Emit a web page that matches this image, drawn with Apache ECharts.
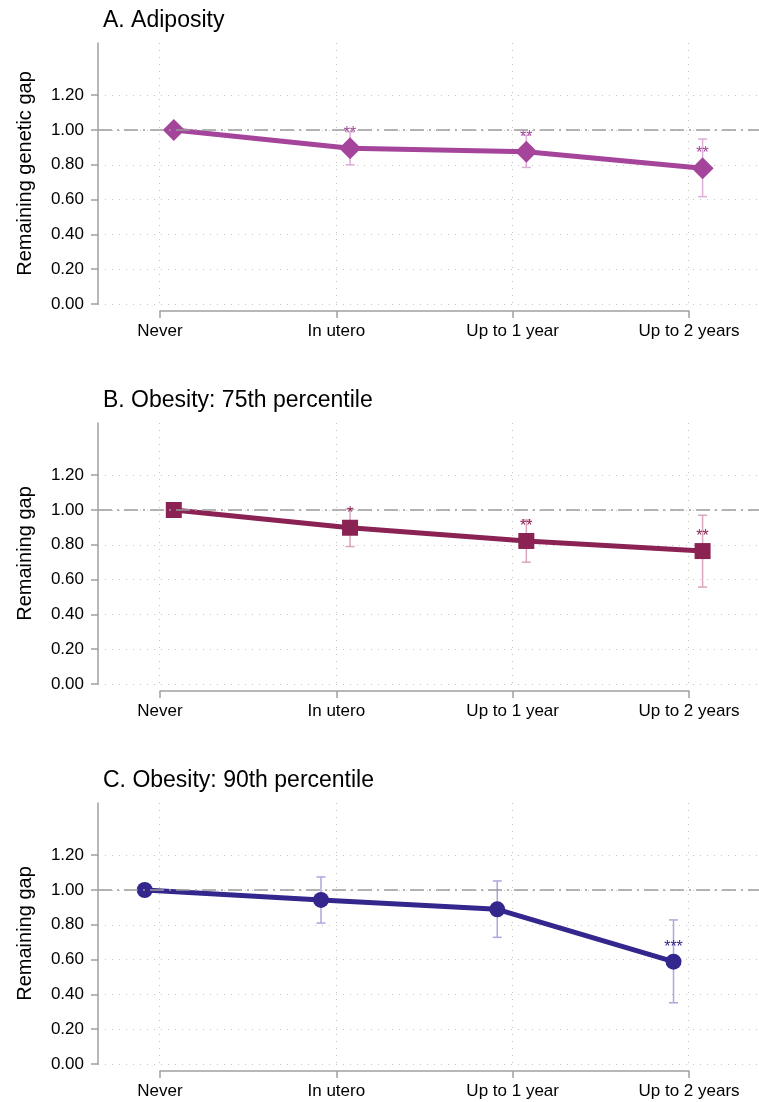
<!DOCTYPE html>
<html>
<head>
<meta charset="utf-8">
<script src="https://cdn.jsdelivr.net/npm/echarts@6/dist/echarts.min.js"></script>
<style>html,body{margin:0;padding:0;background:#fff;}#c{width:759px;height:1102px;}</style>
</head>
<body>
<div id="c"></div>
<script>
const categories = ['Never', 'In utero', 'Up to 1 year', 'Up to 2 years'];
const yTicks = [0, 0.2, 0.4, 0.6, 0.8, 1.0, 1.2];

const adiposity = [1.00, 0.895, 0.875, 0.78];
const adiposityLow = [null, 0.80, 0.785, 0.617];
const adiposityHigh = [null, 0.99, 0.97, 0.948];
const adiposityStars = ['', '**', '**', '**'];

const obesity75 = [1.00, 0.898, 0.822, 0.764];
const obesity75Low = [null, 0.79, 0.70, 0.557];
const obesity75High = [null, 1.005, 0.943, 0.97];
const obesity75Stars = ['', '*', '**', '**'];

const obesity90 = [1.00, 0.943, 0.889, 0.588];
const obesity90Low = [null, 0.81, 0.728, 0.352];
const obesity90High = [null, 1.075, 1.052, 0.828];
const obesity90Stars = ['', '', '', '***'];

const panels = [
  {title: 'A. Adiposity', yName: 'Remaining genetic gap', vals: adiposity, lo: adiposityLow, hi: adiposityHigh, stars: adiposityStars,
   color: '#a5449b', ci: '#deaed7', symbol: 'diamond', size: 22, shift: 0.08},
  {title: 'B. Obesity: 75th percentile', yName: 'Remaining gap', vals: obesity75, lo: obesity75Low, hi: obesity75High, stars: obesity75Stars,
   color: '#8b2254', ci: '#d8a6bf', symbol: 'rect', size: 16, shift: 0.08},
  {title: 'C. Obesity: 90th percentile', yName: 'Remaining gap', vals: obesity90, lo: obesity90Low, hi: obesity90High, stars: obesity90Stars,
   color: '#33268c', ci: '#aea7da', symbol: 'circle', size: 16, shift: -0.085}
];

const FONT = 'Liberation Sans, Arial, Helvetica, sans-serif';
const GRAY = '#a0a0a0';
const DOT = {color: '#c4c4c4', type: [1, 6], width: 1};
const catIdx = categories.map((c, i) => i);

const option = {
  backgroundColor: '#fff',
  animation: false,
  title: [], grid: [], xAxis: [], yAxis: [], series: []
};

panels.forEach((p, k) => {
  const off = 380 * k;
  option.title.push({text: p.title, left: 103, top: 9 + off, padding: 0,
    textStyle: {fontFamily: FONT, fontSize: 23, fontWeight: 'normal', color: '#000'}});
  option.grid.push({left: 98, right: 0, top: 43 + off, height: 261});
  option.grid.push({left: 160, right: 70, top: 310 + off, height: 1});
  const gPlot = 2 * k, gAxis = 2 * k + 1;
  option.xAxis.push({
    type: 'value', gridIndex: gPlot, min: -0.35, max: 3.4,
    axisLine: {show: false},
    axisTick: {show: false, customValues: catIdx},
    axisLabel: {show: false, customValues: catIdx},
    splitLine: {show: true, lineStyle: DOT}
  });
  option.xAxis.push({
    type: 'category', gridIndex: gAxis, data: categories, boundaryGap: false, position: 'bottom',
    axisLine: {show: true, lineStyle: {color: GRAY, width: 1.5}},
    axisTick: {show: true, length: 7, lineStyle: {color: GRAY, width: 1.5}},
    axisLabel: {show: true, margin: 12, fontFamily: FONT, fontSize: 17, color: '#000', interval: 0},
    splitLine: {show: false}
  });
  option.yAxis.push({
    type: 'value', gridIndex: gPlot, min: 0, max: 1.5,
    name: p.yName, nameLocation: 'middle', nameGap: 63,
    nameTextStyle: {fontFamily: FONT, fontSize: 20, color: '#000'},
    axisLine: {show: true, onZero: false, lineStyle: {color: GRAY, width: 1.5}},
    axisTick: {show: true, length: 7, lineStyle: {color: GRAY, width: 1.5}, customValues: yTicks},
    axisLabel: {show: true, margin: 14, fontFamily: FONT, fontSize: 17, color: '#000',
      customValues: yTicks, formatter: v => v.toFixed(2)},
    splitLine: {show: true, lineStyle: DOT}
  });
  option.yAxis.push({type: 'value', gridIndex: gAxis, show: false, min: 0, max: 1});

  const pts = p.vals.map((v, i) => [i + p.shift, v]);
  const ciData = p.vals.map((v, i) => p.lo[i] == null ? null : [i + p.shift, p.lo[i], p.hi[i]]).filter(d => d);

  option.series.push({
    type: 'line', xAxisIndex: gPlot, yAxisIndex: gPlot, data: [], silent: true,
    markLine: {symbol: 'none', silent: true, label: {show: false},
      lineStyle: {color: '#9a9a9a', width: 1.5, type: [14, 5, 2, 5]},
      data: [{yAxis: 1}]}
  });
  option.series.push({
    type: 'custom', xAxisIndex: gPlot, yAxisIndex: gPlot, data: ciData, z: 2,
    renderItem: function (params, api) {
      const x = api.value(0);
      const a = api.coord([x, api.value(1)]);
      const b = api.coord([x, api.value(2)]);
      const w = 4.5;
      const st = {stroke: p.ci, lineWidth: 1.5};
      return {type: 'group', children: [
        {type: 'line', shape: {x1: a[0], y1: a[1], x2: b[0], y2: b[1]}, style: st},
        {type: 'line', shape: {x1: a[0] - w, y1: a[1], x2: a[0] + w, y2: a[1]}, style: st},
        {type: 'line', shape: {x1: b[0] - w, y1: b[1], x2: b[0] + w, y2: b[1]}, style: st}
      ]};
    }
  });
  option.series.push({
    type: 'line', xAxisIndex: gPlot, yAxisIndex: gPlot, data: pts, z: 3,
    symbol: p.symbol, symbolSize: p.size,
    lineStyle: {color: p.color, width: 5},
    itemStyle: {color: p.color},
    label: {show: true, position: 'inside', offset: [0, -14.5], color: p.color,
      fontFamily: FONT, fontSize: 16, formatter: d => p.stars[d.dataIndex]}
  });
});

const chart = echarts.init(document.getElementById('c'), null, {renderer: 'canvas'});
chart.setOption(option);
</script>
</body>
</html>
